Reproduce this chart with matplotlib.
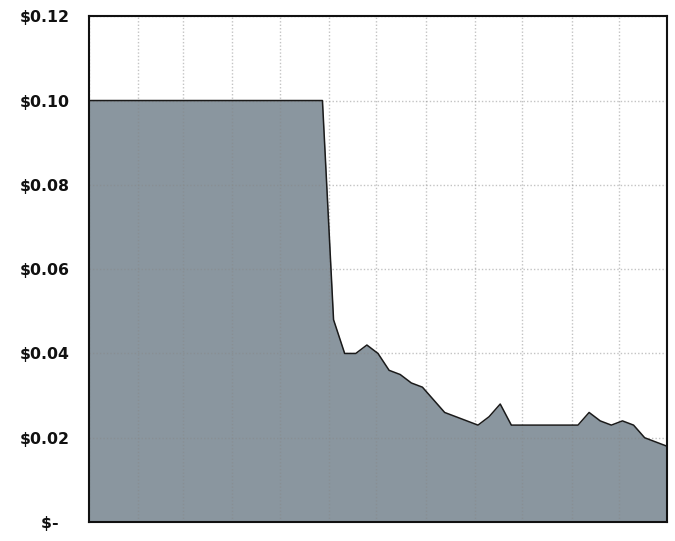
import numpy as np
import pandas as pd
import matplotlib
matplotlib.use('Agg')
import matplotlib.pyplot as plt
import matplotlib.dates as mdates

# weekly prices over one year
dates = pd.date_range('2019-01-01', periods=53, freq='7D')
prices = [0.10, 0.10, 0.10, 0.10, 0.10, 0.10, 0.10, 0.10, 0.10, 0.10, 0.10,
          0.10, 0.10, 0.10, 0.10, 0.10, 0.10, 0.10, 0.10, 0.10, 0.10, 0.10,
          0.048, 0.040, 0.040, 0.042, 0.040, 0.036, 0.035, 0.033, 0.032,
          0.029, 0.026, 0.025, 0.024, 0.023, 0.025, 0.028, 0.023, 0.023,
          0.023, 0.023, 0.023, 0.023, 0.023, 0.026, 0.024, 0.023, 0.024,
          0.023, 0.020, 0.019, 0.018]
yticks = [0, 0.02, 0.04, 0.06, 0.08, 0.10, 0.12]
ylabels = ['$-  ', '$0.02', '$0.04', '$0.06', '$0.08', '$0.10', '$0.12']

fig = plt.figure(figsize=(6.75, 5.41), dpi=100)
ax = fig.add_axes([0.132, 0.035, 0.856, 0.935])

ax.fill_between(dates, prices, 0, color='#8a969f', linewidth=0, zorder=1)
ax.plot(dates, prices, color='#1a1a1a', linewidth=1.1, zorder=3)

ax.set_xlim(dates[0], dates[-1])
ax.set_ylim(0, 0.12)
ax.set_yticks(yticks)
ax.set_yticklabels(ylabels, fontsize=11.3, fontweight='bold', color='#111111')
ax.xaxis.set_major_locator(mdates.MonthLocator())
ax.tick_params(axis='x', length=0, labelbottom=False)
ax.tick_params(axis='y', length=0, pad=14)

ax.grid(True, color='#888888', alpha=0.5, linestyle=(0, (1, 1.5)), linewidth=1, zorder=2)
ax.set_axisbelow(False)
for s in ax.spines.values():
    s.set_linewidth(1.5)
    s.set_color('#111111')
    s.set_zorder(4)

fig.savefig('out.png', dpi=100)
